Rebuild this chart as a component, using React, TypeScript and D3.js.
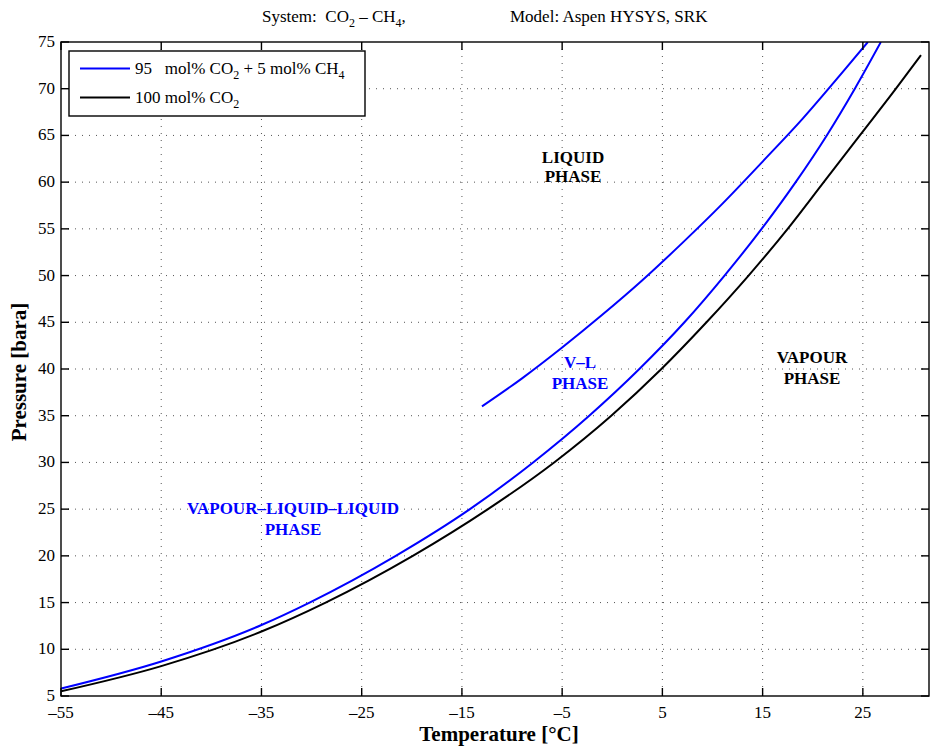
import React from "react";
import * as d3 from "d3";

const TEMP_TICKS = [-55, -45, -35, -25, -15, -5, 5, 15, 25];
const PRESS_TICKS = [5, 10, 15, 20, 25, 30, 35, 40, 45, 50, 55, 60, 65, 70, 75];

// 95 mol% CO2 + 5 mol% CH4 — upper branch (starts inside the plot)
const mixUpperT = [-13.0, -9.0, -5.0, -1.0, 3.0, 7.0, 11.0, 15.0, 19.0, 23.0, 25.5];
const mixUpperP = [36.0, 39.0, 42.3, 45.8, 49.5, 53.5, 57.7, 62.2, 66.8, 71.8, 75.0];

// 95 mol% CO2 + 5 mol% CH4 — lower branch
const mixLowerT = [-55, -45, -35, -30.2, -21.6, -14.2, -7.9, -2.3, 2.7, 7.2, 11.2, 14.9, 18.3, 21.4, 24.2, 26.8];
const mixLowerP = [5.8, 8.7, 12.6, 15, 20, 25, 30, 35, 40, 45, 50, 55, 60, 65, 70, 75];

// 100 mol% CO2
const pureT = [-55, -45, -35, -28.6, -19.9, -12.4, -5.8, -0.1, 4.9, 9.4, 13.6, 17.5, 21.1, 24.7, 28.3, 30.8];
const pureP = [5.5, 8.2, 11.9, 15, 20, 25, 30, 35, 40, 45, 50, 55, 60, 65, 70, 73.6];

const BLUE = "#0000ff";
const FONT = "'Liberation Serif', 'Times New Roman', serif";

export default function App() {
  const W = 930, H = 748;
  const L = 61, R = 929, T = 42, B = 696;
  const x = d3.scaleLinear().domain([-55, 31.6]).range([L, R]);
  const y = d3.scaleLinear().domain([5, 75]).range([B, T]);

  const mk = (ts: number[], ps: number[]) =>
    d3.line<number>()
      .x((_, i) => x(ts[i]))
      .y((_, i) => y(ps[i]))
      .curve(d3.curveMonotoneX)(ts as any) as string;

  const tick = 8;
  const gridStyle = { stroke: "#555", strokeWidth: 1, strokeDasharray: "1 6" };

  return (
    <svg width={W} height={H} style={{ position: "absolute", left: 0, top: 0, background: "#fff" }} fontFamily={FONT}>
      <defs>
        <clipPath id="plotclip">
          <rect x={L} y={T} width={R - L} height={B - T} />
        </clipPath>
      </defs>
      <rect x={0} y={0} width={W} height={H} fill="#fff" />

      {/* grid */}
      {TEMP_TICKS.filter((t) => t !== -55).map((t) => (
        <line key={"gx" + t} x1={x(t)} x2={x(t)} y1={T} y2={B} {...gridStyle} />
      ))}
      {PRESS_TICKS.filter((p) => p !== 5 && p !== 75).map((p) => (
        <line key={"gy" + p} x1={L} x2={R} y1={y(p)} y2={y(p)} {...gridStyle} />
      ))}

      {/* curves */}
      <g clipPath="url(#plotclip)" fill="none" strokeWidth={2}>
        <path d={mk(pureT, pureP)} stroke="#000" />
        <path d={mk(mixLowerT, mixLowerP)} stroke={BLUE} />
        <path d={mk(mixUpperT, mixUpperP)} stroke={BLUE} />
      </g>

      {/* axes box + ticks */}
      <rect x={L} y={T} width={R - L} height={B - T} fill="none" stroke="#000" strokeWidth={1.4} />
      {TEMP_TICKS.map((t) => (
        <g key={"tx" + t}>
          <line x1={x(t)} x2={x(t)} y1={B} y2={B - tick} stroke="#000" strokeWidth={1.4} />
          <line x1={x(t)} x2={x(t)} y1={T} y2={T + tick} stroke="#000" strokeWidth={1.4} />
          <text x={x(t)} y={B + 22} textAnchor="middle" fontSize={17}>
            {t < 0 ? "\u2013" + Math.abs(t) : String(t)}
          </text>
        </g>
      ))}
      {PRESS_TICKS.map((p) => (
        <g key={"ty" + p}>
          <line x1={L} x2={L + tick} y1={y(p)} y2={y(p)} stroke="#000" strokeWidth={1.4} />
          <line x1={R} x2={R - tick} y1={y(p)} y2={y(p)} stroke="#000" strokeWidth={1.4} />
          <text x={L - 6} y={y(p) + 5} textAnchor="end" fontSize={17}>
            {p}
          </text>
        </g>
      ))}

      {/* title */}
      <text x={262} y={22} fontSize={17}>
        System:{"\u00a0\u00a0"}CO<tspan dy={5} fontSize={12}>2</tspan>
        <tspan dy={-5}>{" \u2013 CH"}</tspan>
        <tspan dy={5} fontSize={12}>4</tspan>
        <tspan dy={-5}>,</tspan>
      </text>
      <text x={510} y={22} fontSize={17}>Model: Aspen HYSYS, SRK</text>

      {/* axis labels */}
      <text x={(L + R) / 2 + 4} y={741} textAnchor="middle" fontSize={21} fontWeight="bold">
        Temperature [°C]
      </text>
      <text transform={`translate(26, ${372}) rotate(-90)`} textAnchor="middle" fontSize={21} fontWeight="bold">
        Pressure [bara]
      </text>

      {/* legend */}
      <rect x={69} y={51} width={296} height={65} fill="#fff" stroke="#000" strokeWidth={1.4} />
      <line x1={80} x2={130} y1={68.5} y2={68.5} stroke={BLUE} strokeWidth={2} />
      <line x1={80} x2={130} y1={97.5} y2={97.5} stroke="#000" strokeWidth={2} />
      <text x={135} y={74} fontSize={17} style={{ whiteSpace: "pre" }}>
        {"95   mol% CO"}
        <tspan dy={5} fontSize={12}>2</tspan>
        <tspan dy={-5}>{" + 5 mol% CH"}</tspan>
        <tspan dy={5} fontSize={12}>4</tspan>
      </text>
      <text x={135} y={103} fontSize={17}>
        100 mol% CO<tspan dy={5} fontSize={12}>2</tspan>
      </text>

      {/* region annotations */}
      <g fontWeight="bold" fontSize={17} textAnchor="middle">
        <text x={573} y={163}>LIQUID</text>
        <text x={573} y={182}>PHASE</text>
        <text x={580} y={368} fill={BLUE}>V–L</text>
        <text x={580} y={389} fill={BLUE}>PHASE</text>
        <text x={812} y={363}>VAPOUR</text>
        <text x={812} y={384}>PHASE</text>
        <text x={293} y={514} fill={BLUE}>VAPOUR–LIQUID–LIQUID</text>
        <text x={293} y={535} fill={BLUE}>PHASE</text>
      </g>
    </svg>
  );
}
